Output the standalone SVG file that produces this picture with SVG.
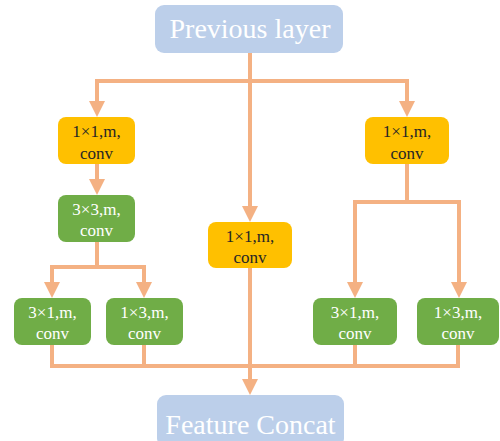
<svg xmlns="http://www.w3.org/2000/svg" width="500" height="441" viewBox="0 0 500 441">
<defs>
<marker id="ah" markerUnits="userSpaceOnUse" markerWidth="16" markerHeight="16" viewBox="0 0 16 16" refX="8" refY="8" orient="auto">
<path d="M0,0 L16,8 L0,16 z" fill="#F4B183"/>
</marker>
<style>
text{font-family:"Liberation Serif","Times New Roman",serif;text-anchor:middle}
.c{fill:none;stroke:#F4B183;stroke-width:4}
.a{marker-end:url(#ah)}
.blue{fill:#BCCFEA}
.yel{fill:#FFC000}
.grn{fill:#70AD47}
.big{font-size:28px;fill:#fff}
.lt{font-size:17px}
.dk{fill:#262626}
.wt{fill:#fff}
</style>
</defs>
<rect width="500" height="441" fill="#fff"/>
<g id="connectors">
<path class="c" d="M250,53 V81 M97,81 H409"/>
<path class="c a" d="M97,79 V109"/>
<path class="c a" d="M407,79 V109"/>
<path class="c a" d="M250,81 V214"/>
<path class="c a" d="M97,164 V187"/>
<path class="c" d="M97,242 V267 M50,267 H146"/>
<path class="c a" d="M52,265 V290"/>
<path class="c a" d="M144,265 V290"/>
<path class="c" d="M407,164 V202 M353,202 H461"/>
<path class="c a" d="M355,200 V290"/>
<path class="c a" d="M459,200 V290"/>
<path class="c" d="M52,345 V366 M144,345 V366 M355,345 V366 M458,345 V366 M50,366 H460"/>
<path class="c a" d="M250,268 V387"/>
</g>
<g id="prev">
<rect class="blue" x="155" y="5" width="188" height="48" rx="9"/>
<text class="big" x="250" y="38" font-family="Liberation Serif, serif">Previous layer</text>
</g>
<g id="y1">
<rect class="yel" x="58" y="117" width="77" height="47" rx="8"/>
<text class="lt dk" x="96.5" y="137" font-family="Liberation Serif, serif">1×1,m,</text>
<text class="lt dk" x="96.5" y="159" font-family="Liberation Serif, serif">conv</text>
</g>
<g id="y2">
<rect class="yel" x="365" y="117" width="84" height="47" rx="8"/>
<text class="lt dk" x="407" y="137" font-family="Liberation Serif, serif">1×1,m,</text>
<text class="lt dk" x="407" y="159" font-family="Liberation Serif, serif">conv</text>
</g>
<g id="g33">
<rect class="grn" x="58" y="195" width="77" height="47" rx="8"/>
<text class="lt wt" x="96.5" y="215" font-family="Liberation Serif, serif">3×3,m,</text>
<text class="lt wt" x="96.5" y="236" font-family="Liberation Serif, serif">conv</text>
</g>
<g id="y3">
<rect class="yel" x="208" y="222" width="84" height="46" rx="8"/>
<text class="lt dk" x="250" y="242" font-family="Liberation Serif, serif">1×1,m,</text>
<text class="lt dk" x="250" y="263" font-family="Liberation Serif, serif">conv</text>
</g>
<g id="g31a">
<rect class="grn" x="14" y="298" width="77" height="47" rx="8"/>
<text class="lt wt" x="52.5" y="318" font-family="Liberation Serif, serif">3×1,m,</text>
<text class="lt wt" x="52.5" y="339" font-family="Liberation Serif, serif">conv</text>
</g>
<g id="g13a">
<rect class="grn" x="106" y="298" width="77" height="47" rx="8"/>
<text class="lt wt" x="144.5" y="318" font-family="Liberation Serif, serif">1×3,m,</text>
<text class="lt wt" x="144.5" y="339" font-family="Liberation Serif, serif">conv</text>
</g>
<g id="g31b">
<rect class="grn" x="313" y="298" width="84" height="47" rx="8"/>
<text class="lt wt" x="355" y="318" font-family="Liberation Serif, serif">3×1,m,</text>
<text class="lt wt" x="355" y="339" font-family="Liberation Serif, serif">conv</text>
</g>
<g id="g13b">
<rect class="grn" x="417" y="298" width="82" height="47" rx="8"/>
<text class="lt wt" x="458" y="318" font-family="Liberation Serif, serif">1×3,m,</text>
<text class="lt wt" x="458" y="339" font-family="Liberation Serif, serif">conv</text>
</g>
<g id="concat">
<rect class="blue" x="157" y="395" width="187" height="52" rx="9"/>
<text class="big" x="250.5" y="434" font-family="Liberation Serif, serif">Feature Concat</text>
</g>
</svg>
